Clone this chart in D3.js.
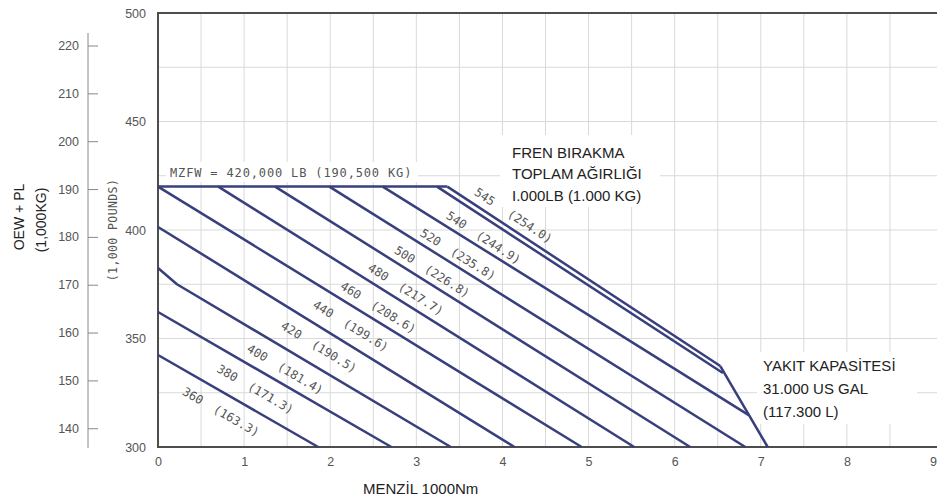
<!DOCTYPE html>
<html>
<head>
<meta charset="utf-8">
<script src="https://cdn.jsdelivr.net/npm/d3@7"></script>
<style>
  body { margin: 0; background: #fff; }
  svg { display: block; }
</style>
</head>
<body>
<svg id="chart" width="937" height="502"></svg>
<script>
// Brake release gross weight lines (1000 lb) with the kg equivalent (1000 kg)
const weightsLb = [360, 380, 400, 420, 440, 460, 480, 500, 520, 540, 545];
const weightsKg = ["163.3", "171.3", "181.4", "190.5", "199.6", "208.6", "217.7", "226.8", "235.8", "244.9", "254.0"];

// Each line: [range (1000 nm), OEW + PL (1000 lb)]
const line360 = [[0, 342.4], [1.86, 300]];
const line380 = [[0, 362.2], [2.71, 300]];
const line400 = [[0, 382.5], [0.22, 375.0], [3.40, 300]];
const line420 = [[0, 401.4], [4.14, 300]];
const line440 = [[0, 420.0], [4.92, 300]];
const line460 = [[0.70, 420.0], [5.53, 300]];
const line480 = [[1.36, 420.0], [6.18, 300]];
const line500 = [[1.99, 420.0], [6.82, 300]];
const line520 = [[2.61, 420.0], [6.86, 314.7]];
const line540 = [[3.24, 420.0], [6.56, 334.1]];
const line545 = [[3.36, 420.0], [6.53, 337.3]];
const weightLines = [line360, line380, line400, line420, line440, line460, line480, line500, line520, line540, line545];

// Max zero fuel weight limit and fuel capacity limit
const mzfwLine = [[0, 420.0], [3.36, 420.0]];
const fuelLine = [[6.53, 337.3], [7.08, 300]];

// Axis ticks
const rangeTicks = [0, 1, 2, 3, 4, 5, 6, 7, 8, 9];
const lbTicks = [300, 350, 400, 450, 500];
const kgTicks = [140, 150, 160, 170, 180, 190, 200, 210, 220];
const LB_PER_KG = 2.20462;

const svg = d3.select("#chart");
const plotL = 158, plotR = 933, plotT = 13, plotB = 447;

const x = d3.scaleLinear().domain([0, 9]).range([plotL, plotR]);
const y = d3.scaleLinear().domain([300, 500]).range([plotB, plotT]);
const yKg = d3.scaleLinear().domain([300 / LB_PER_KG, 500 / LB_PER_KG]).range([plotB, plotT]);

const gray = "#555";
const lineColor = "#383f7c";

// grid
const grid = svg.append("g").attr("stroke", "#d9d9d9").attr("stroke-width", 1);
grid.selectAll("line.v").data(d3.range(0.5, 9, 0.5)).join("line")
  .attr("x1", d => x(d)).attr("x2", d => x(d))
  .attr("y1", plotT).attr("y2", plotB);
grid.selectAll("line.h").data(d3.range(325, 500, 25)).join("line")
  .attr("x1", plotL).attr("x2", 937)
  .attr("y1", d => y(d)).attr("y2", d => y(d));

// white masks behind the annotation blocks
const masks = svg.append("g").attr("fill", "#fff");
masks.append("rect").attr("x", 166).attr("y", 162).attr("width", 252).attr("height", 20);
masks.append("rect").attr("x", 500).attr("y", 135).attr("width", 160).attr("height", 72);
masks.append("rect").attr("x", 757).attr("y", 352).attr("width", 160).attr("height", 72);

// frame
svg.append("path").attr("d", `M937,${plotT}H${plotL}V${plotB}H937`)
  .attr("stroke", "#4d4d4d").attr("stroke-width", 2).attr("fill", "none");

// axes
const fontTick = "'Liberation Sans', Arial, sans-serif";
const xAxis = svg.append("g").attr("transform", `translate(0,${plotB})`)
  .call(d3.axisBottom(x).tickValues(rangeTicks).tickSize(0).tickPadding(10).tickFormat(d3.format("d")));
xAxis.select(".domain").remove();

const lbAxis = svg.append("g").attr("transform", `translate(${plotL},0)`)
  .call(d3.axisLeft(y).tickValues(lbTicks).tickSize(0).tickPadding(12));
lbAxis.select(".domain").remove();

const kgAxis = svg.append("g").attr("transform", "translate(88,0)")
  .call(d3.axisLeft(yKg).tickValues(kgTicks).tickSizeInner(-10).tickSizeOuter(0).tickPadding(9));
kgAxis.select(".domain").remove();
kgAxis.append("line").attr("x1", 0).attr("x2", 0).attr("y1", 33).attr("y2", 448)
  .attr("stroke", "#888").attr("stroke-width", 1);
kgAxis.selectAll(".tick line").attr("stroke", "#888");

[xAxis, lbAxis, kgAxis].forEach(g => g.selectAll("text")
  .attr("fill", gray).style("font-family", fontTick).style("font-size", "12.5px"));

// weight lines
const path = d3.line().x(d => x(d[0])).y(d => y(d[1]));
const lines = svg.append("g").attr("fill", "none").attr("stroke", lineColor)
  .attr("stroke-width", 2.5).attr("stroke-linejoin", "round");
lines.selectAll("path.w").data(weightLines).join("path").attr("d", path);
lines.append("path").attr("d", path(mzfwLine));
lines.append("path").attr("d", path(fuelLine));

// labels sit where each line crosses a diagonal guide
const guide = { x0: 193, y0: 375, s: -0.667 };
function crossing(pts) {
  const p = pts.map(d => [x(d[0]), y(d[1])]);
  for (let i = 0; i < p.length - 1; i++) {
    const [ax, ay] = p[i], [bx, by] = p[i + 1];
    const m = (by - ay) / (bx - ax);
    const cx = (guide.y0 - guide.s * guide.x0 - ay + m * ax) / (m - guide.s);
    if (cx >= ax - 0.5 && cx <= bx + 0.5) {
      return { x: cx, y: ay + m * (cx - ax), a: Math.atan(m) };
    }
  }
  const [ax, ay] = p[p.length - 2], [bx, by] = p[p.length - 1];
  return { x: bx, y: by, a: Math.atan2(by - ay, bx - ax) };
}

const monoFont = "'DejaVu Sans Mono', monospace";
const labels = svg.append("g").attr("fill", gray)
  .style("font-family", monoFont).style("font-size", "12px");
weightLines.forEach((pts, i) => {
  const c = crossing(pts);
  const ca = Math.cos(c.a), sa = Math.sin(c.a);
  let nx, ny, gap;
  if (i === weightLines.length - 1) {
    // outermost line: label rides above it
    nx = c.x + 20 * ca + 12 * sa;
    ny = c.y + 20 * sa - 12 * ca;
    gap = 54;
  } else {
    nx = c.x;
    ny = c.y + 21;
    gap = 50;
  }
  const deg = c.a * 180 / Math.PI;
  const px = nx + gap * ca, py = ny + gap * sa;
  labels.append("text").attr("text-anchor", "middle").attr("dominant-baseline", "central")
    .attr("transform", `translate(${nx},${ny}) rotate(${deg})`).text(weightsLb[i]);
  labels.append("text").attr("text-anchor", "middle").attr("dominant-baseline", "central")
    .attr("transform", `translate(${px},${py}) rotate(${deg})`).text(`(${weightsKg[i]})`);
});

// MZFW note
svg.append("text").attr("x", 170).attr("y", 173).attr("dominant-baseline", "central")
  .attr("fill", gray).style("font-family", monoFont).style("font-size", "12px")
  .style("letter-spacing", "0.85px")
  .text("MZFW = 420,000 LB (190,500 KG)");

// axis titles
const sans = "'Liberation Sans', Arial, sans-serif";
svg.append("text").attr("transform", "translate(19,217) rotate(-90)")
  .attr("text-anchor", "middle").attr("dominant-baseline", "central")
  .attr("fill", "#222").style("font-family", sans).style("font-size", "14px").text("OEW + PL");
svg.append("text").attr("transform", "translate(41,220) rotate(-90)")
  .attr("text-anchor", "middle").attr("dominant-baseline", "central")
  .attr("fill", "#222").style("font-family", sans).style("font-size", "14px").text("(1,000KG)");
svg.append("text").attr("transform", "translate(113,230) rotate(-90)")
  .attr("text-anchor", "middle").attr("dominant-baseline", "central")
  .attr("fill", gray).style("font-family", monoFont).style("font-size", "11.5px")
  .style("letter-spacing", "0.4px").text("(1,000 POUNDS)");
svg.append("text").attr("x", 363).attr("y", 488).attr("dominant-baseline", "central")
  .attr("fill", "#222").style("font-family", sans).style("font-size", "15px").text("MENZİL 1000Nm");

// annotation blocks
function block(x0, y0, rows, step) {
  const t = svg.append("text").attr("fill", "#222")
    .style("font-family", sans).style("font-size", "15px");
  rows.forEach((r, i) => t.append("tspan").attr("x", x0).attr("y", y0 + i * step)
    .attr("dominant-baseline", "central").text(r));
}
block(512, 152, ["FREN BIRAKMA", "TOPLAM AĞIRLIĞI", "I.000LB (1.000 KG)"], 21.7);
block(763, 365, ["YAKIT KAPASİTESİ", "31.000 US GAL", "(117.300 L)"], 23.3);
</script>
</body>
</html>
